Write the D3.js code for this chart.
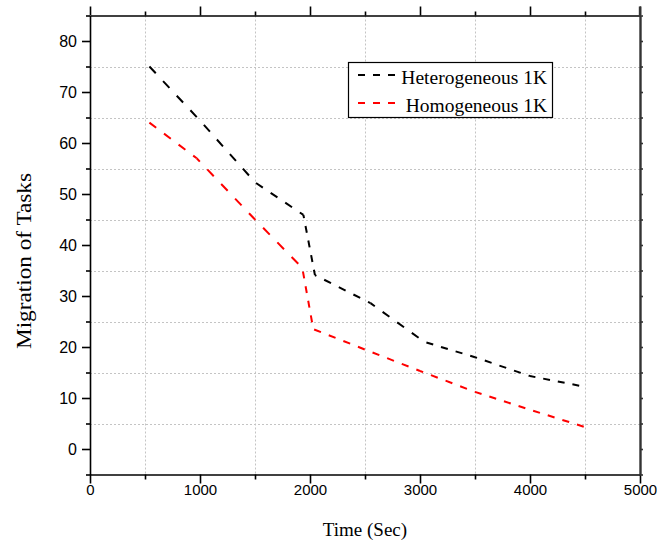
<!DOCTYPE html>
<html>
<head>
<meta charset="utf-8">
<script src="https://cdn.jsdelivr.net/npm/d3@7"></script>
<style>
  html, body { margin: 0; padding: 0; background: #fff; }
  svg { display: block; }
</style>
</head>
<body>
<svg id="chart" width="657" height="544"></svg>
<script>
// ---- data ----
const hetTime = [540, 1000, 1500, 1940, 2045, 2550, 3040, 3500, 4000, 4500];
const hetValues = [75, 64.4, 52.3, 45.9, 34.1, 28.6, 21, 18, 14.3, 12.2];
const homTime = [540, 970, 1500, 1930, 2030, 2500, 3000, 3500, 4000, 4500];
const homValues = [64, 57, 45, 35.5, 23.5, 19.5, 15.3, 11.2, 7.7, 4.3];
const seriesNames = ["Heterogeneous 1K", "Homogeneous 1K"];
const seriesColors = ["#000000", "#ff0000"];
const xTicks = [0, 1000, 2000, 3000, 4000, 5000];
const xMinor = [500, 1500, 2500, 3500, 4500];
const yTicks = [0, 10, 20, 30, 40, 50, 60, 70, 80];
const yMinor = [-5, 5, 15, 25, 35, 45, 55, 65, 75, 85];
const xTitle = "Time (Sec)";
const yTitle = "Migration of Tasks";

const svg = d3.select("#chart");
const L = 90, R = 640, T = 15.5, B = 474.5;
const x = d3.scaleLinear().domain([0, 5000]).range([L, R]);
const y = d3.scaleLinear().domain([-5, 85]).range([B, T]);

svg.append("rect").attr("width", 657).attr("height", 544).attr("fill", "#fff");

// grid (at minor positions)
const grid = svg.append("g").attr("stroke", "#c4c4c4").attr("stroke-width", 1)
  .attr("stroke-dasharray", "2,2");
grid.selectAll("line.v").data(xMinor).join("line")
  .attr("x1", d => Math.round(x(d)) + 0.5).attr("x2", d => Math.round(x(d)) + 0.5)
  .attr("y1", T).attr("y2", B);
grid.selectAll("line.h").data(yMinor.filter(d => d > -5 && d < 85)).join("line")
  .attr("y1", d => Math.round(y(d)) + 0.5).attr("y2", d => Math.round(y(d)) + 0.5)
  .attr("x1", L).attr("x2", R);

// axes
function styleAxis(g, w) {
  g.selectAll("path.domain").attr("stroke", "#000").attr("stroke-width", w);
  g.selectAll(".tick line").attr("stroke", "#000").attr("stroke-width", w);
}
const tickFont = "'Liberation Sans', Arial, sans-serif";

// bottom
const gb = svg.append("g").attr("transform", `translate(0,${B})`);
gb.call(d3.axisBottom(x).tickValues(xTicks).tickSize(9).tickSizeOuter(0).tickPadding(1).tickFormat(d3.format("d")));
gb.selectAll("text").attr("font-family", tickFont).attr("font-size", 15).attr("fill", "#000");
styleAxis(gb, 1.6);
const gbm = svg.append("g").attr("transform", `translate(0,${B})`);
gbm.call(d3.axisBottom(x).tickValues(xMinor).tickSize(5).tickSizeOuter(0).tickFormat(""));
gbm.select("path.domain").remove(); styleAxis(gbm, 1.6);

// top
const gt = svg.append("g").attr("transform", `translate(0,${T})`);
gt.call(d3.axisTop(x).tickValues(xTicks).tickSize(9).tickSizeOuter(0).tickFormat(""));
styleAxis(gt, 1.6);
const gtm = svg.append("g").attr("transform", `translate(0,${T})`);
gtm.call(d3.axisTop(x).tickValues(xMinor).tickSize(4).tickSizeOuter(0).tickFormat(""));
gtm.select("path.domain").remove(); styleAxis(gtm, 1.6);

// left
const gl = svg.append("g").attr("transform", `translate(${L},0)`);
gl.call(d3.axisLeft(y).tickValues(yTicks).tickSize(8).tickSizeOuter(0).tickPadding(5).tickFormat(d3.format("d")));
gl.selectAll("text").attr("font-family", tickFont).attr("font-size", 16).attr("fill", "#000");
styleAxis(gl, 1.6);
const glm = svg.append("g").attr("transform", `translate(${L},0)`);
glm.call(d3.axisLeft(y).tickValues(yMinor).tickSize(4).tickSizeOuter(0).tickFormat(""));
glm.select("path.domain").remove(); styleAxis(glm, 1.6);

// right
const gr = svg.append("g").attr("transform", `translate(${R},0)`);
gr.call(d3.axisRight(y).tickValues(yTicks.concat(yMinor)).tickSize(3).tickSizeOuter(0).tickFormat(""));
gr.selectAll("path.domain").attr("stroke", "#333").attr("stroke-width", 2.4);
gr.selectAll(".tick line").attr("stroke", "#333").attr("stroke-width", 1.6);
// right axis extends to top tick
svg.append("line").attr("x1", R).attr("x2", R).attr("y1", T - 9).attr("y2", T)
  .attr("stroke", "#333").attr("stroke-width", 2.4);

// series, dashed with a pattern measured along the dominant direction
const lineGen = d3.line().x(d => x(d[0])).y(d => y(d[1]));
function drawSeries(times, vals, color) {
  const pts = times.map((t, i) => [t, vals[i]]);
  let phase = 0;
  const g = svg.append("g");
  for (let i = 0; i < pts.length - 1; i++) {
    const a = pts[i], b = pts[i + 1];
    const dx = x(b[0]) - x(a[0]), dy = y(b[1]) - y(a[1]);
    const len = Math.hypot(dx, dy), cheb = Math.max(Math.abs(dx), Math.abs(dy));
    const f = len / cheb;
    g.append("path").attr("d", lineGen([a, b]))
      .attr("fill", "none").attr("stroke", color).attr("stroke-width", 2)
      .attr("stroke-dasharray", `${6.8 * f},${7.8 * f}`)
      .attr("stroke-dashoffset", (phase % 14.6) * f);
    phase += cheb;
  }
}
drawSeries(hetTime, hetValues, seriesColors[0]);
drawSeries(homTime, homValues, seriesColors[1]);

// legend
const lg = svg.append("g");
lg.append("rect").attr("x", 348.5).attr("y", 62.5).attr("width", 204).attr("height", 55)
  .attr("fill", "#fff").attr("stroke", "#000").attr("stroke-width", 1.2);
[0, 1].forEach(i => {
  const yy = 75 + i * 28;
  lg.append("line").attr("x1", 358).attr("x2", 395).attr("y1", yy).attr("y2", yy)
    .attr("stroke", seriesColors[i]).attr("stroke-width", 2).attr("stroke-dasharray", "7,8");
  lg.append("text").attr("x", 547).attr("y", yy + 8.5).attr("text-anchor", "end")
    .attr("font-family", "'Liberation Serif', 'Times New Roman', serif").attr("font-size", 19.5)
    .attr("fill", "#000").text(seriesNames[i]);
});

// titles
svg.append("text").attr("x", (L + R) / 2).attr("y", 536).attr("text-anchor", "middle")
  .attr("font-family", "'Liberation Serif', 'Times New Roman', serif").attr("font-size", 19)
  .attr("fill", "#000").text(xTitle);
svg.append("text").attr("transform", `translate(31,261) rotate(-90)`).attr("text-anchor", "middle")
  .attr("font-family", "'Liberation Serif', 'Times New Roman', serif").attr("font-size", 21)
  .attr("textLength", 176).attr("lengthAdjust", "spacingAndGlyphs")
  .attr("fill", "#000").text(yTitle);
</script>
</body>
</html>
